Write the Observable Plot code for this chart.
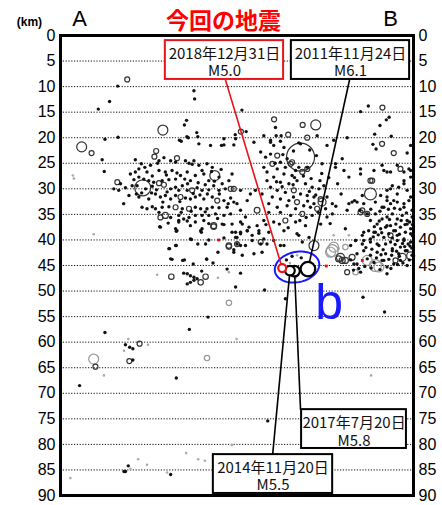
<!DOCTYPE html>
<html><head><meta charset="utf-8">
<script src="https://cdn.jsdelivr.net/npm/d3@7"></script>
<script src="https://cdn.jsdelivr.net/npm/@observablehq/plot@0.6"></script>
<style>body{margin:0;background:#fff}</style>
</head><body><div id="chart"></div>
<script>
// depth ticks (km)
const depthTicks = [0,5,10,15,20,25,30,35,40,45,50,55,60,65,70,75,80,85,90];
// small events: [distance A→B (0-100), depth km]
const blackDots = [
[16.2,9.9],[13.9,12.9],[10.7,14.4],[37.8,10.8],[38.0,12.4],[51.4,14.6],[35.7,16.6],[35.1,17.5],[35.8,19.8],[38.6,19.0],[38.9,19.8],[34.2,20.7],[16.3,19.9],[12.6,20.3],[49.5,19.4],[52.6,18.8],[60.9,18.0],[61.1,19.6],[62.5,19.6],[67.5,21.0],[62.3,20.7],[85.0,14.9],[87.2,13.8],[93.1,16.0],[92.3,16.5],[90.5,17.6],[89.0,19.3],[93.7,19.7],[88.5,21.3],[49.1,21.4],[46.3,21.4],[99.2,21.5],
[11.8,24.3],[12.4,26.6],[21.2,24.3],[29.3,23.9],[33.7,20.5],[36.2,20.0],[39.2,21.2],[42.5,21.5],[45.6,21.5],[46.3,20.2],
[22.9,25.1],[23.9,25.8],[22.2,26.1],[25.5,25.4],[27.9,24.5],[31.2,24.5],[32.6,24.8],[35.4,24.5],[36.4,25.0],[37.3,25.2],[37.8,24.5],[39.2,25.4],[41.5,25.1],[43.0,25.8],[40.1,26.4],[35.9,26.7],[31.6,26.4],[29.7,26.7],[27.9,26.4],[24.5,26.7],[21.2,26.7],[19.8,27.1],[22.2,27.7],[23.6,28.1],[25.0,28.4],[26.4,28.7],[28.8,28.4],[30.7,28.2],[32.6,28.1],[34.0,27.4],[35.2,28.1],[36.8,28.4],[38.2,27.4],[40.6,27.1],[42.0,28.4],[44.9,27.7],[45.8,29.0],[47.7,28.4],[48.6,27.1],
[17.0,29.0],[18.4,29.8],[15.1,30.0],[16.5,30.3],[20.3,29.4],[21.7,29.4],[24.1,30.0],[26.0,29.5],[31.2,30.0],[32.6,29.7],[33.5,30.3],[34.5,29.4],[35.9,30.3],[38.7,29.8],[40.1,30.3],[42.0,30.2],[43.4,29.4],[44.9,30.3],[46.7,30.0],
[17.9,32.9],[19.4,31.3],[22.2,31.6],[25.0,32.0],[26.9,31.0],[28.3,31.6],[29.7,31.3],[31.2,32.0],[32.6,31.3],[35.4,31.8],[36.8,32.0],[38.2,31.6],[40.6,32.0],[43.0,31.6],[46.3,32.3],[48.2,31.8],[49.1,32.6],
[23.1,33.6],[24.5,33.9],[26.0,33.5],[26.9,33.9],[28.8,33.6],[30.7,33.5],[34.5,33.9],[38.2,33.6],[39.7,33.9],[41.5,33.9],[43.0,33.6],[44.9,33.7],[47.2,33.6],
[27.9,34.6],[31.2,35.6],[33.5,35.2],[34.9,35.9],[36.4,35.6],[38.2,35.2],[40.1,35.2],[42.0,35.2],[43.9,34.9],[46.3,35.2],[48.2,34.9],
[33.5,36.2],[35.9,36.3],[38.2,36.5],[40.6,36.2],[45.8,36.9],[48.6,36.9],[28.3,37.5],[32.6,37.8],[40.1,37.8],
[20.8,28.2],[21.5,31.0],[23.0,30.8],[25.8,30.8],[27.2,30.2],[30.2,30.6],[29.0,32.6],[33.8,32.5],[37.6,30.9],[39.5,31.2],[41.6,31.0],[36.0,29.0],[39.0,28.8],[41.0,29.2],[43.6,28.5],[30.0,27.3],[33.0,26.9],[26.0,27.5],[34.2,34.6],[37.0,34.4],[41.0,34.5],[44.5,35.8],[42.0,36.8],[36.8,37.2],[30.5,36.7],[45.0,31.0],[47.5,32.9],[27.5,25.0],[42.8,26.6],[45.5,26.2],
[59.5,20.9],[81.2,20.0],[89.4,22.2],[98.2,23.0],[67.5,25.8],[74.1,25.1],[77.9,25.1],[79.8,24.1],[85.0,26.1],[88.8,26.4],[91.6,26.4],[93.5,26.7],[97.3,26.7],[99.2,26.4],[81.7,27.7],[93.5,30.0],[97.3,29.0],[98.2,30.3],[99.2,31.6],[92.5,31.6],[94.4,32.3],[95.4,31.0],[91.1,33.6],[97.3,33.6],[81.2,34.2],[81.7,32.9],[83.3,32.3],[84.8,34.2],
[51.0,30.3],[53.8,31.0],[55.2,30.3],[52.9,32.3],[50.0,32.9],[51.0,34.2],[52.4,35.5],[51.5,36.9],[55.7,37.2],
[59.5,20.5],[57.6,19.6],[54.8,20.9],[49.6,20.2],[60.4,21.5],[63.3,21.9],[68.0,21.2],[72.7,19.6],[75.5,21.5],[77.4,20.5],[56.7,22.8],[58.1,23.8],[59.5,23.2],[62.3,24.8],[64.2,24.1],[57.6,25.8],[58.5,26.7],[61.4,26.1],[63.7,25.8],[66.6,26.4],[69.9,25.8],[63.3,27.1],[65.6,27.4],[60.4,27.7],[58.5,28.4],[62.3,28.7],[64.7,29.0],[67.0,28.4],[69.4,29.0],[71.3,29.7],[73.2,30.0],[74.6,29.4],[59.5,29.7],[61.4,30.3],[63.7,30.7],[68.0,31.0],[69.9,31.3],[71.8,31.6],[75.5,31.6],[57.1,31.0],[60.0,31.6],[62.3,32.0],[64.7,32.3],[68.9,33.3],[71.8,32.9],[70.8,33.6],[75.1,33.9],[77.0,32.9],[59.0,32.9],[61.4,33.6],[64.2,33.3],[66.6,33.9],[59.0,34.6],[62.3,34.6],[65.2,35.2],[71.3,35.2],[75.5,35.5],[77.0,34.9],[57.6,36.2],[60.4,36.5],[66.6,36.5],[69.4,37.2],[73.7,36.9],[51.0,36.5],[53.4,37.5],[56.2,38.2],[59.0,38.5],[63.3,38.2],[67.0,38.8],[70.4,39.5],[50.0,39.5],[54.3,40.1],[56.7,40.8],[51.0,41.1],[49.1,41.9],[63.3,41.1],
[62.8,29.6],[65.9,29.2],[70.5,30.5],[72.3,31.2],[66.0,31.6],[70.0,32.4],[73.0,34.6],[69.6,35.6],[67.8,36.2],[62.0,36.9],[58.2,37.0],[64.5,37.6],[61.2,28.6],[66.3,27.8],[68.8,27.5],[71.0,28.0],[73.5,28.4],[60.8,25.0],[63.0,23.3],[66.0,22.6],[70.6,22.4],[72.5,23.5],[74.0,27.0],[76.0,27.8],[78.5,29.0],[79.5,31.0],[78.0,33.4],[76.4,36.8],
[28.1,37.4],[33.5,36.5],[46.3,37.0],[48.6,38.5],[32.8,38.3],[39.9,38.5],[37.1,39.9],[38.9,40.8],[41.1,40.8],[46.3,39.6],[49.6,39.5],[30.9,41.7],[32.8,41.1],[44.6,42.4],[31.6,43.8],[34.6,44.0],[35.1,43.9],[37.6,44.7],[41.4,43.8],[43.2,44.5],[47.2,45.7],[34.9,46.5],[35.9,46.6],[36.8,47.0],[37.8,47.3],[38.7,47.6],[40.0,46.1],[35.9,48.6],[36.8,48.3],[37.8,47.9],[41.8,55.1],[36.5,57.5],[12.6,58.1],[18.4,60.5],[19.6,61.0],[20.5,61.3],
[20.5,63.5],[5.4,68.5],[32.8,67.0],[19.2,84.2],[18.0,85.3],[18.4,85.3],[31.2,85.9],[58.7,75.4],
[49.6,38.5],[51.0,38.8],[52.9,38.2],[54.3,39.1],[56.2,38.7],[57.6,39.8],[52.4,41.1],[58.5,40.8],[60.4,40.1],[62.3,41.1],[67.5,39.1],[68.5,40.4],[49.1,42.4],[51.5,43.0],[54.8,42.7],[57.1,42.4],[51.0,46.5],[49.6,49.2],[57.8,49.8],[63.7,51.5],[85.7,51.2],[91.8,54.1],[65.6,43.2],[64.0,43.9],[68.2,43.5],
[82.2,43.9],[84.0,44.7],[86.9,43.7],[88.8,44.4],[91.1,44.0],[92.5,45.3],[94.4,44.7],[96.3,44.0],[98.2,45.0],[84.0,42.7],[85.9,42.1],[87.8,43.0],[89.7,42.4],[92.1,42.7],[94.0,42.1],[95.8,42.7],[97.7,42.1],[99.6,43.0],[85.9,40.1],[87.8,39.8],[89.7,40.8],[91.6,39.5],[93.5,40.4],[95.4,39.1],[97.3,40.1],[99.2,38.8],[90.7,37.8],[92.5,37.2],[94.4,38.2],[96.3,37.5],[98.2,36.9],[89.2,38.5],[87.3,38.2],[85.5,39.1],[83.6,40.1],[82.2,41.1],
[86.5,41.5],[88.2,41.8],[89.5,43.5],[90.8,42.9],[91.4,41.9],[93.0,43.8],[93.8,43.0],[94.8,40.9],[95.2,42.2],[96.0,43.2],[96.9,40.7],[97.5,41.3],[98.5,40.8],[99.0,41.2],[98.8,43.9],[97.0,44.5],[95.5,44.8],[93.6,45.6],[90.5,45.8],[88.0,45.5],[86.2,45.2],[84.5,45.6],[83.0,45.9],[88.6,39.4],[90.0,39.0],[91.0,38.6],[93.0,38.8],[94.0,39.6],[96.0,38.9],[97.6,37.0],[98.9,36.5],[96.5,36.2],[95.0,36.9],[93.2,36.0],[90.3,36.3],[88.9,37.4],[99.7,39.2],[99.7,37.0],[98.0,34.7],[96.2,34.0],[94.6,33.8],[92.9,34.0],[90.5,34.4],[87.9,34.0],
[77.9,25.8],[80.3,26.4],[85.0,27.1],[85.5,31.3],[82.6,32.6],[84.0,32.6],[85.9,32.9],[89.2,32.6],[90.7,31.3],[92.5,30.3],[94.0,29.4],[95.8,29.7],[97.3,28.4],[99.2,27.7],[95.4,25.4],[98.7,26.1],[92.5,26.7],[91.1,25.4],[86.9,34.9],[89.2,34.9],[91.6,33.6],[93.5,32.9],[95.4,32.6],[97.3,32.9],[98.7,32.3],[99.6,34.2],[92.5,32.3],[87.8,36.2],[89.7,36.9],[91.1,35.9],[92.5,35.5],[94.0,34.9],[95.4,35.9],[96.8,35.2],[98.2,36.2],[99.6,35.5],[92.1,37.5],[93.5,37.2],[94.9,38.2],[97.7,38.5],[99.2,37.8],[95.4,40.1],[97.3,39.8],[99.2,40.4],[88.8,38.5],[85.9,38.5],[80.7,37.8],[83.6,40.1],[85.5,40.8],[87.8,40.4],[90.2,41.1],[92.1,40.8],[94.0,41.7],[96.3,41.4],[98.2,42.1],[99.5,41.6],[83.1,44.7],[91.6,44.0],[85.0,46.3],[92.5,46.6],
[33.0,38.2],[39.7,38.2],[50.0,40.8],[51.0,38.5],[52.9,38.2],[36.8,39.8],[42.0,40.0],[30.7,41.7],[32.6,41.1],[31.2,43.7],[41.4,43.7]
];
// larger events: [distance, depth, magnitude]
const blackCircles = [
[18.9,8.6,3],[29.0,18.5,5.6],[6.0,21.8,5.6],[51.1,18.8,3],[60.5,16.4,3],[64.5,19.4,3],[68.6,17.5,3],[72.3,17.5,5.6],[69.9,20.0,3],[91.2,14.1,3],[91.1,21.2,3],
[8.8,23.0,3],[27.1,22.6,3],[26.6,23.7,3],[33.0,24.0,3],[43.7,27.4,5.6],[23.3,29.8,6.25],[16.1,28.7,3],[27.9,28.9,3],[29.3,29.2,3],[37.3,30.3,3],[48.2,30.0,3],[34.0,31.6,3],[44.4,32.3,3],[32.6,33.6,3],[36.4,33.9,3],[29.7,35.2,3.7],[28.3,35.6,3],[43.4,37.2,3.7],
[94.4,23.0,3],[68.0,23.8,7.5],[65.6,24.8,3],[69.9,26.1,3],[96.3,26.1,3],[88.3,28.4,3],[87.8,31.0,5.9],[85.5,34.2,3],[86.9,34.9,3],[49.1,30.0,3],[55.7,34.2,3.5],
[61.4,23.5,3],[60.0,25.1,3],[65.2,25.1,3],[68.5,26.7,3],[66.1,30.3,3],[73.7,32.0,3],[67.0,32.6,3],[74.1,32.6,5],[72.7,33.9,3],[68.5,34.9,3],[63.7,36.2,3],[71.8,41.1,5.6],
[43.4,37.4,3.3],[47.7,41.1,3.3],[31.4,47.2,3.3],[41.1,47.2,3.3],[39.7,48.3,3.3],
[22.4,60.3,3],[9.9,64.8,3],[19.5,63.7,3],
[50.0,40.8,3],[56.7,40.4,3],[78.8,43.7,3.7],[79.8,44.0,3.7],
[87.8,28.4,3],[85.0,34.6,3],[93.5,39.1,3],[79.3,43.4,5],[80.7,44.0,3.7],[82.6,43.4,3.7],[94.9,44.0,3],[96.8,43.4,5],[99.2,43.1,5],[81.2,46.3,3],
[47.7,41.3,3.3]
];
// older events (gray)
const grayDots = [
[3.5,27.4],[3.8,28.0],[9.4,38.9],[27.4,46.8],[47.7,46.3],[44.6,47.4],[49.6,49.2],[19.2,59.4],[24.8,60.5],[18.0,61.7],[12.3,66.5],[35.6,81.7],[39.0,82.9],[40.9,83.2],[22.0,82.9],[24.5,84.0],[19.8,84.8],[30.2,85.5],[2.8,86.6],[48.6,80.1],[88.0,66.5],[49.9,59.4],[67.0,43.0],[65.0,44.5],[66.6,47.4],[77.4,39.1],[81.7,39.1],[78.8,41.7]
];
const grayCircles = [
[47.7,52.3,3.3],[9.4,63.3,5.6],[41.5,63.1,3.3],[77.4,41.4,5.6],[76.5,42.4,5.6],[83.6,46.3,3.3],[90.2,45.3,5.6],[77.0,42.1,5.9],[86.9,44.0,5.6],[89.2,45.0,5.9],[80.7,41.4,3.3]
];
const redDots = [[44.8,40.0],[75.3,45.1],[85.5,44.0]];
// main events
const eventDates = ["2014年11月20日","2017年7月20日","2011年11月24日","2018年12月31日"];
const eventMags  = [5.5, 5.8, 6.1, 5.0];
const eventX     = [65.0, 66.3, 70.1, 62.8];
const eventDepth = [46.0, 46.1, 45.7, 45.5];

// callout layout (box extents and leader anchor, in chart units)
const calloutBox = [
  {x1:43.3, x2:77.1, y1:82.0, y2:89.6, ax:60.1, ay:82.0, color:"#000"},
  {x1:68.3, x2:98.0, y1:73.2, y2:80.8, ax:68.0, ay:73.2, color:"#000"},
  {x1:65.4, x2:98.9, y1:1.0,  y2:8.6,  ax:81.9, ay:8.6,  color:"#000"},
  {x1:29.7, x2:63.2, y1:1.0,  y2:8.6,  ax:46.7, ay:8.6,  color:"#e8141b"}
];

const events = eventDates.map((date,i)=>({date, M:eventMags[i], x:eventX[i], d:eventDepth[i], ...calloutBox[i]}));
const toObj = a => ({x:a[0], d:a[1], M:a[2]});

const rScale = {type:"linear", domain:[1,3,5,5.8,6.1,7.5], range:[1.4,2.5,4,5.3,7.3,14]};

// ellipse "b" outline
const ell = {cx:67.0, cy:45.3, rx:6.3, ry:3.0, tilt:0.5};
const ellipsePts = d3.range(0, 2*Math.PI, Math.PI/40).map(t=>({x: ell.cx + ell.rx*Math.cos(t), d: ell.cy + ell.ry*Math.sin(t) - ell.tilt*Math.cos(t)}));

const font = "'Liberation Sans', Arial, sans-serif";
const cjk = "'Noto Sans CJK JP', sans-serif";
const cx = d => (d.x1 + d.x2) / 2;

const chart = Plot.plot({
  width: 442, height: 505,
  marginLeft: 60, marginRight: 29, marginTop: 35, marginBottom: 10,
  style: {fontFamily: font, background: "#fff", overflow: "visible"},
  x: {domain:[0,100], axis:null},
  y: {domain:[0,90], reverse:true, axis:null},
  r: rScale,
  marks: [
    Plot.ruleY(depthTicks.slice(1,-1), {stroke:"#111", strokeWidth:1, strokeDasharray:"1.2,1.6"}),
    Plot.axisY({anchor:"left", ticks:depthTicks, tickSize:0, tickPadding:5, fontSize:16, label:null}),
    Plot.axisY({anchor:"right", ticks:depthTicks, tickSize:0, tickPadding:5, fontSize:16, label:null}),
    Plot.dot(grayDots.map(toObj), {x:"x", y:"d", r:1.3, fill:"#aaa", stroke:"none"}),
    Plot.dot(grayCircles.map(toObj), {x:"x", y:"d", r:"M", fill:"none", stroke:"#999", strokeWidth:1.2}),
    Plot.dot(blackCircles.map(toObj), {x:"x", y:"d", r:"M", fill:"none", stroke:"#333", strokeWidth:1.2}),
    Plot.dot(blackDots.map(toObj), {x:"x", y:"d", r:1.7, fill:"#111", stroke:"none"}),
    Plot.dot(redDots.map(toObj), {x:"x", y:"d", r:1.6, fill:"#f00", stroke:"none", symbol:"square"}),
    Plot.line(ellipsePts, {x:"x", y:"d", curve:"linear-closed", stroke:"#1a1aff", strokeWidth:2}),
    Plot.link(events, {x1:"ax", y1:"ay", x2:"x", y2:"d", stroke:"color", strokeWidth:1.6}),
    Plot.dot(events, {x:"x", y:"d", r:"M", fill:"#fff", stroke:"color", strokeWidth:2.2}),
    Plot.rect(events, {x1:"x1", x2:"x2", y1:"y1", y2:"y2", fill:"#fff", stroke:"color", strokeWidth:2}),
    Plot.text(events, {x:cx, y:d=>d.y1 + 0.34*(d.y2-d.y1), text:"date", fontSize:15, fontFamily:cjk, fill:"#111"}),
    Plot.text(events, {x:cx, y:d=>d.y1 + 0.80*(d.y2-d.y1), text:d=>`M${d.M.toFixed(1)}`, fontSize:15, fontFamily:cjk, fill:"#111"}),
    Plot.frame({stroke:"#000", strokeWidth:3}),
    Plot.text(["b"], {x:76.1, y:55.4, lineAnchor:"bottom", fontSize:50, fill:"#1a1aff", fontFamily:font}),
    Plot.text(["A"], {x:5.4, y:-1.8, lineAnchor:"bottom", fontSize:22, fill:"#000"}),
    Plot.text(["B"], {x:93.5, y:-1.8, lineAnchor:"bottom", fontSize:22, fill:"#000"}),
    Plot.text(["(km)"], {x:-8.8, y:-1.8, lineAnchor:"bottom", fontSize:12, fontWeight:"bold", fill:"#000"}),
    Plot.text(["今回の地震"], {x:46.2, y:-1.3, lineAnchor:"bottom", fontSize:23, fontWeight:"bold", fill:"#f00", fontFamily:cjk})
  ]
});
document.getElementById("chart").appendChild(chart);
</script>
</body></html>
